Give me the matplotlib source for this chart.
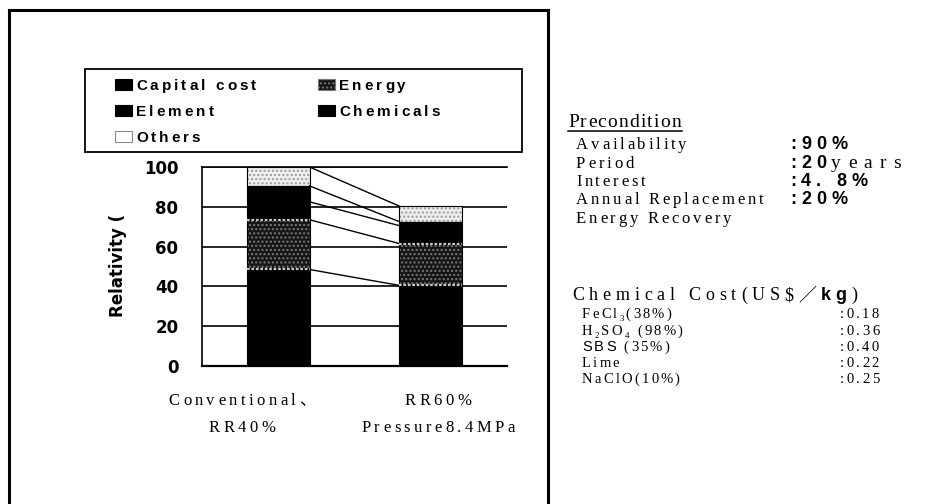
import numpy as np
import matplotlib
matplotlib.use("Agg")
import matplotlib.pyplot as plt
from matplotlib.font_manager import FontProperties
from matplotlib.patches import Rectangle
from matplotlib.lines import Line2D

# ---- data -------------------------------------------------------------
categories = ["Conventional、\nRR40%", "RR60%\nPressure8.4MPa"]
components = ["Capital cost", "Energy", "Element", "Chemicals", "Others"]
capital = [48.5, 40.5]
energy = [25.0, 21.0]
element = [9.0, 9.0]
chemicals = [8.0, 2.0]
others = [9.5, 7.8]
yticks = [0, 20, 40, 60, 80, 100]

precondition_items = ["Availability", "Period", "Interest",
                      "Annual Replacement", "Energy Recovery"]
precondition_values = [":90%", ":20years", ":4. 8%", ":20%", ""]
chemical_names = ["FeCl_3(38%)", "H_2SO_4 (98%)", "SBS (35%)", "Lime", "NaClO(10%)"]
chemical_prices = [":0.18", ":0.36", ":0.40", ":0.22", ":0.25"]

# ---- figure -----------------------------------------------------------
W, H, DPI = 935, 504, 100
fig = plt.figure(figsize=(W / DPI, H / DPI), dpi=DPI)
fig.patch.set_facecolor("white")
renderer = fig.canvas.get_renderer()

SERIF = ["Liberation Serif", "Noto Sans CJK JP"]
SANS = ["Liberation Sans", "Noto Sans CJK JP"]


def fx(px):
    return px / W


def fy(py):
    return 1 - py / H


def _width(s, prop):
    w, h, d = renderer.get_text_width_height_descent(s, prop, ismath=False)
    return w


def _advance(ch, prop):
    return _width("|" + ch + "|", prop) - _width("||", prop)


def spaced_text(x, y, runs, track, ha="left"):
    """Draw letter-spaced text; runs are (string, style) pairs, y is the
    baseline in pixels measured from the top of the figure."""
    items = []
    for s, st in runs:
        prop = FontProperties(family=st.get("family", SERIF), size=st["size"],
                              weight=st.get("weight", "normal"))
        for ch in s:
            items.append((ch, prop, st.get("dy", 0), st.get("track", track)))
    advs = [_advance(ch, p) for ch, p, _, _ in items]
    total = sum(a + t for a, (_, _, _, t) in zip(advs, items)) - items[-1][3]
    if ha == "center":
        x -= total / 2
    elif ha == "right":
        x -= total
    cx = x
    for (ch, p, dy, t), a in zip(items, advs):
        if ch != " ":
            fig.text(fx(cx), fy(y + dy), ch, fontproperties=p,
                     ha="left", va="baseline")
        cx += a + t
    return x, x + total


def formula_runs(s, size, family=SERIF, weight="normal"):
    """Split a chemical formula with '_n' subscripts into text runs."""
    runs = []
    i = 0
    buf = ""
    while i < len(s):
        if s[i] == "_" and i + 1 < len(s):
            if buf:
                runs.append((buf, dict(size=size, family=family, weight=weight)))
                buf = ""
            runs.append((s[i + 1], dict(size=size * 0.6, family=family, dy=3)))
            i += 2
        else:
            buf += s[i]
            i += 1
    if buf:
        runs.append((buf, dict(size=size, family=family, weight=weight)))
    return runs


# ---- outer frame ------------------------------------------------------
for xs, ys in [([9, 9], [10, 520]), ([9, 548], [10, 10]), ([548, 548], [10, 520])]:
    fig.add_artist(Line2D([fx(v) for v in xs], [fy(v) for v in ys],
                          color="black", lw=2.2))

# ---- stacked bars -----------------------------------------------------
ax = fig.add_axes([fx(202), fy(366), (507 - 202) / W, (366 - 167) / H])
xpos = np.arange(len(categories))
bar_w = 0.41

series = [capital, energy, element, chemicals, others]
fills = [
    dict(color="black"),
    dict(facecolor="#161616", edgecolor="#7a7a7a", hatch="...."),
    dict(color="black"),
    dict(color="black"),
    dict(facecolor="#eeeeee", edgecolor="#9a9a9a", hatch="...."),
]
bottom = np.zeros(len(categories))
tops = []
for vals, st in zip(series, fills):
    vals = np.asarray(vals, dtype=float)
    ax.bar(xpos, vals, bar_w, bottom=bottom, linewidth=0, zorder=2, **st)
    ax.bar(xpos, vals, bar_w, bottom=bottom, facecolor="none",
           edgecolor="black", linewidth=0.8, zorder=3)
    bottom = bottom + vals
    tops.append(bottom.copy())

# speckled borders around the energy block
e_lo = np.asarray(capital, float)
e_hi = e_lo + np.asarray(energy, float)
for lv in (e_lo, e_hi):
    ax.hlines(lv, xpos - bar_w / 2, xpos + bar_w / 2, colors="#c8c8c8",
              linestyles=(0, (1.2, 0.8)), linewidth=1.6, zorder=4)

# connectors between matching boundaries of the two bars
for t in tops:
    ax.plot([xpos[0] + bar_w / 2, xpos[1] - bar_w / 2], [t[0], t[1]],
            color="black", lw=1.0, zorder=3)

ax.set_xlim(-0.5, 1.5)
ax.set_ylim(0, 100)
ax.set_yticks(yticks)
ax.set_yticklabels([str(v) for v in yticks], fontsize=12,
                   fontweight="bold", family="DejaVu Sans")
ax.yaxis.grid(True, color="black", lw=1.2)
ax.set_axisbelow(True)
ax.set_xticks([])
ax.tick_params(axis="y", length=0, pad=17)
ax.spines["right"].set_visible(False)
ax.spines["top"].set_linewidth(1.2)
ax.spines["left"].set_linewidth(1.2)
ax.spines["bottom"].set_linewidth(1.6)

fig.text(fx(118), fy(265), "Relativity (", rotation=90, ha="center",
         va="center", fontsize=12, fontweight="bold", family="DejaVu Sans")

# category labels under the bars
label_centers = [242, 438]
for cx, lab in zip(label_centers, categories):
    for k, line in enumerate(lab.split("\n")):
        spaced_text(cx, 405 + 27 * k, [(line, dict(size=12, family=SERIF))],
                    track=3.4, ha="center")

# ---- legend -----------------------------------------------------------
fig.add_artist(Rectangle((fx(85), fy(152)), (522 - 85) / W, (152 - 69) / H,
                         transform=fig.transFigure, facecolor="none",
                         edgecolor="black", lw=1.3))
leg_slots = [(115, 85), (318, 85), (115, 111), (318, 111), (115, 137)]
for (lx, ly), idx in zip(leg_slots, range(len(components))):
    rect = dict(fills[idx])
    if idx == 4:
        rect = dict(facecolor="white", edgecolor="#8a8a8a")
    fig.add_artist(Rectangle((fx(lx), fy(ly + 5)), 17 / W, 11 / H,
                             transform=fig.transFigure, lw=0.8, **rect))
    spaced_text(lx + 21, ly + 5,
                [(components[idx], dict(size=11, family=SANS, weight="bold"))],
                track=3.0)

# ---- preconditions ----------------------------------------------------
x0, x1 = spaced_text(568, 127, [("Precondition", dict(size=14, family=SERIF))],
                     track=1.2)
fig.add_artist(Line2D([fx(x0), fx(x1 + 1)], [fy(131), fy(131)],
                      color="black", lw=1.1))
row_y = [149, 168, 186, 204, 223]
for yy, name, val in zip(row_y, precondition_items, precondition_values):
    spaced_text(576, yy, [(name, dict(size=12, family=SERIF))], track=2.8)
    if not val:
        continue
    if val.endswith("years"):
        runs = [(val[:-5], dict(size=13, family=SANS, weight="bold")),
                ("years", dict(size=14, family=SERIF, track=7))]
    else:
        runs = [(val, dict(size=13, family=SANS, weight="bold"))]
    spaced_text(790, yy, runs, track=5.0)

# ---- chemical costs ---------------------------------------------------
spaced_text(572, 300, [("Chemical Cost(US$／", dict(size=13, family=SERIF)),
                       ("kg", dict(size=13, family=SANS, weight="bold")),
                       (")", dict(size=13, family=SERIF))], track=4.8)
chem_y = [318, 335, 351, 367, 383]
for yy, name, price in zip(chem_y, chemical_names, chemical_prices):
    if name.startswith("SBS"):
        runs = [("SBS", dict(size=10.5, family=SANS))] + \
               [(name[3:], dict(size=10.5, family=SERIF))]
    else:
        runs = formula_runs(name, 10.5)
    spaced_text(582, yy, runs, track=2.2)
    spaced_text(840, yy, [(price, dict(size=10.5, family=SERIF))], track=2.4)

fig.savefig("out.png", dpi=DPI, facecolor="white")
